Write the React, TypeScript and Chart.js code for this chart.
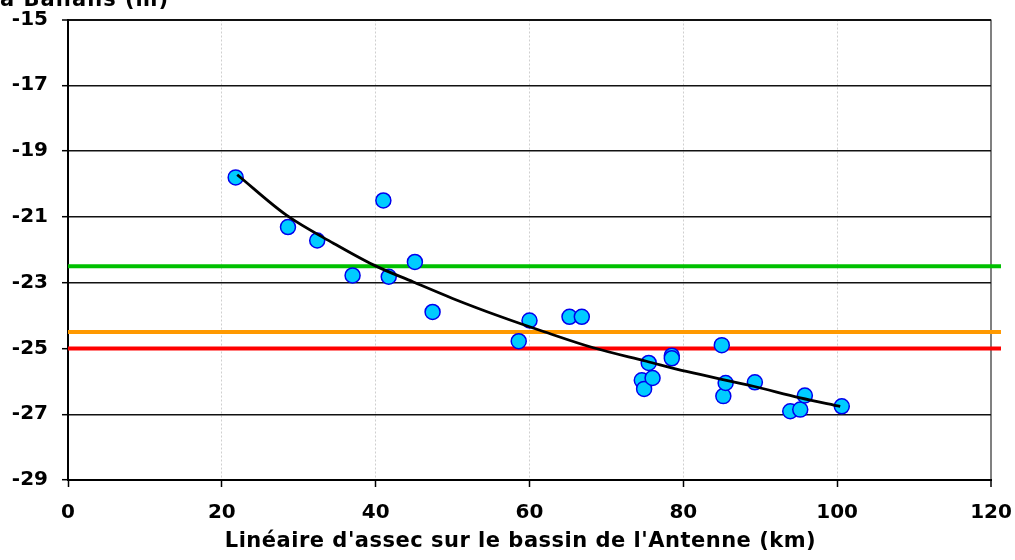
import React, { useEffect, useRef } from "react";
import { Chart, registerables } from "chart.js";

Chart.register(...registerables);

// Axis ticks
const xTicks = [0, 20, 40, 60, 80, 100, 120];
const yTicks = [-29, -27, -25, -23, -21, -19, -17, -15];

// Observations (km of dry river vs level in m)
const obsX = [21.8, 28.6, 32.4, 37.0, 41.0, 41.7, 45.1, 47.4, 58.6, 60.0, 65.2, 66.8, 74.6, 74.9, 75.5, 76.0, 78.5, 78.5, 85.0, 85.2, 85.5, 89.3, 93.9, 95.2, 95.8, 100.6];
const obsY = [-19.8, -21.31, -21.72, -22.78, -20.5, -22.82, -22.37, -23.89, -24.78, -24.15, -24.04, -24.04, -25.97, -26.23, -25.44, -25.9, -25.22, -25.3, -24.9, -26.45, -26.05, -26.03, -26.91, -26.86, -26.43, -26.76];

// Trend curve
const trendX = [22.0, 28.4, 34.5, 39.7, 44.9, 50.0, 56.2, 62.0, 68.3, 75.2, 80.4, 89.1, 95.2, 100.4];
const trendY = [-19.72, -20.95, -21.8, -22.46, -22.98, -23.48, -24.03, -24.5, -24.98, -25.39, -25.7, -26.15, -26.5, -26.76];

// Threshold levels
const thresholdValues = [-22.5, -24.5, -25];
const thresholdColors = ["#00C000", "#FF9900", "#FF0000"];
const thresholdSpan = [0, 121.3];

const xTitle = "Linéaire d'assec sur le bassin de l'Antenne (km)";
const yTitle = "à Ballans (m)";

const FONT = "'DejaVu Sans', Verdana, sans-serif";

export default function App() {
  const ref = useRef<HTMLCanvasElement | null>(null);

  useEffect(() => {
    const canvas = ref.current;
    if (!canvas) return;

    const textPlugin = {
      id: "texts",
      afterDraw(chart: any) {
        const ctx = chart.ctx;
        const area = chart.chartArea;
        ctx.save();
        ctx.fillStyle = "#000";
        ctx.font = `bold 21px ${FONT}`;
        (ctx as any).letterSpacing = "0.5px";
        ctx.textBaseline = "alphabetic";
        ctx.textAlign = "center";
        ctx.fillText(xTitle, area.left + (area.right - area.left) / 2 - 9, 547);
        ctx.font = `bold 21px ${FONT}`;
        (ctx as any).letterSpacing = "1px";
        ctx.textAlign = "left";
        ctx.fillText(yTitle, 0, 5.5);
        (ctx as any).letterSpacing = "0px";
        ctx.restore();
      },
    };

    const datasets: any[] = [
      {
        type: "line",
        label: "Tendance",
        data: trendX.map((x, i) => ({ x, y: trendY[i] })),
        borderColor: "#000",
        borderWidth: 2.8,
        pointRadius: 0,
        tension: 0.4,
        cubicInterpolationMode: "monotone",
        fill: false,
        order: 0,
      },
      {
        type: "scatter",
        label: "Mesures",
        data: obsX.map((x, i) => ({ x, y: obsY[i] })),
        backgroundColor: "#00CCFF",
        borderColor: "#0000EE",
        borderWidth: 1.5,
        pointRadius: 7.5,
        order: 1,
      },
      ...thresholdValues.map((v, i) => ({
        type: "line",
        label: "Seuil " + (i + 1),
        data: thresholdSpan.map((x) => ({ x, y: v })),
        borderColor: thresholdColors[i],
        borderWidth: 4,
        pointRadius: 0,
        fill: false,
        clip: false,
        order: 2,
      })),
    ];

    const chart = new Chart(canvas, {
      type: "scatter",
      data: { datasets },
      plugins: [textPlugin],
      options: {
        animation: false,
        responsive: false,
        maintainAspectRatio: false,
        layout: { padding: { left: 7, right: 24, top: 19.5, bottom: 0 } },
        plugins: {
          legend: { display: false },
          tooltip: { enabled: false },
          title: { display: false },
        },
        scales: {
          x: {
            type: "linear",
            min: xTicks[0],
            max: xTicks[xTicks.length - 1],
            afterBuildTicks: (scale: any) => {
              scale.ticks = xTicks.map((v) => ({ value: v }));
            },
            afterFit: (scale: any) => {
              scale.height = 80;
              scale.paddingLeft = 0;
              scale.paddingRight = 0;
            },
            ticks: {
              color: "#000",
              font: { family: FONT, size: 20, weight: "bold" },
              padding: 14,
              maxRotation: 0,
              autoSkip: false,
            },
            grid: {
              color: (c: any) => (c.tick && c.tick.value === 120 ? "#808080" : "#cfcfcf"),
              lineWidth: (c: any) => (c.tick && c.tick.value === 120 ? 2 : 1),
              tickColor: "#000",
              tickLength: 7,
              tickWidth: 1.5,
              tickBorderDash: [],
            },
            border: {
              color: "#000",
              width: 2,
              dash: (c: any) => (c.tick && c.tick.value === 120 ? [] : [2, 2]),
            },
          },
          y: {
            type: "linear",
            min: yTicks[0],
            max: yTicks[yTicks.length - 1],
            afterBuildTicks: (scale: any) => {
              scale.ticks = yTicks.map((v) => ({ value: v }));
            },
            afterFit: (scale: any) => {
              scale.width = 61;
              scale.paddingTop = 0;
              scale.paddingBottom = 0;
            },
            ticks: {
              color: "#000",
              font: { family: FONT, size: 20, weight: "bold" },
              padding: 14,
              autoSkip: false,
            },
            grid: {
              color: "#111",
              lineWidth: (c: any) => (c.tick && c.tick.value === -15 ? 2 : 1.4),
              tickColor: "#000",
              tickLength: 6,
              tickWidth: 1.5,
            },
            border: { color: "#000", width: 2 },
          },
        },
      } as any,
    } as any);

    return () => chart.destroy();
  }, []);

  return (
    <div style={{ position: "absolute", left: 0, top: 0, width: 1015, height: 560, background: "#fff" }}>
      <canvas ref={ref} width={1015} height={560} style={{ width: 1015, height: 560, display: "block" }} />
    </div>
  );
}
